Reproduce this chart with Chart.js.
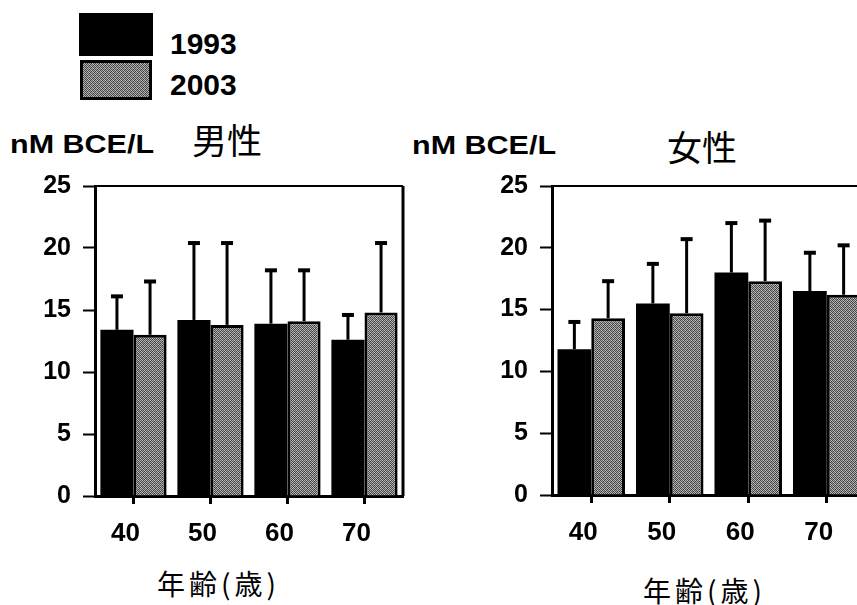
<!DOCTYPE html>
<html>
<head>
<meta charset="utf-8">
<script src="https://cdn.jsdelivr.net/npm/chart.js@4.4.1/dist/chart.umd.min.js"></script>
<style>
  html, body { margin: 0; padding: 0; background: #fff; }
  body { width: 857px; height: 605px; position: relative; overflow: hidden; }
  .txt { position: absolute; white-space: nowrap; color: #000; line-height: 1; }
  .unit { font-family: "Liberation Sans", Arial, sans-serif; font-weight: bold; font-size: 25px; transform: scaleX(1.22); transform-origin: left center; }
  .sex { font-family: "Noto Sans CJK JP", sans-serif; font-size: 35px; }
  .age { font-family: "Noto Sans CJK JP", sans-serif; font-size: 28px; letter-spacing: 4px; }
  .leg { font-family: "Liberation Sans", Arial, sans-serif; font-weight: bold; font-size: 30px; }
  .box { position: absolute; box-sizing: border-box; }
  canvas { position: absolute; }
</style>
</head>
<body>
<div class="box" id="box93" style="left:79px;top:13px;width:74px;height:43px;background:#000;"></div>
<div class="box" id="box03" style="left:80px;top:60px;width:72px;height:40px;border:3px solid #000;"></div>
<div class="txt leg" style="left:170px;top:29px;">1993</div>
<div class="txt leg" style="left:170px;top:70px;">2003</div>

<div class="txt unit" style="left:10px;top:132px;">nM BCE/L</div>
<div class="txt sex" style="left:192px;top:121px;">男性</div>
<div class="txt unit" style="left:412px;top:133px;">nM BCE/L</div>
<div class="txt sex" style="left:667px;top:128px;">女性</div>

<div class="txt age" style="left:157px;top:569px;">年齢(歳)</div>
<div class="txt age" style="left:643px;top:576px;">年齢(歳)</div>

<canvas id="male" width="410" height="446" style="left:0px;top:159px;"></canvas>
<canvas id="female" width="420" height="446" style="left:457px;top:159px;"></canvas>

<script>
// data (nM BCE/L, mean and upper SD)
const ageLabels = ['40', '50', '60', '70'];
const male1993 = [13.4, 14.2, 13.9, 12.6];
const male1993Sd = [2.7, 6.2, 4.3, 2.0];
const male2003 = [13.0, 13.8, 14.1, 14.8];
const male2003Sd = [4.3, 6.6, 4.1, 5.6];
const female1993 = [11.8, 15.5, 18.0, 16.5];
const female1993Sd = [2.2, 3.2, 4.0, 3.1];
const female2003 = [14.3, 14.7, 17.3, 16.2];
const female2003Sd = [3.0, 6.0, 4.9, 4.0];
const yMax = 25;
const yStep = 5;

// stippled grey fill like the scanned halftone
function makeStipple() {
	const c = document.createElement('canvas');
	c.width = 4; c.height = 4;
	const g = c.getContext('2d');
	const shades = [
		['#3c3c3c', '#bcbcbc', '#4a4a4a', '#a0a0a0'],
		['#acacac', '#5a5a5a', '#c4c4c4', '#404040'],
		['#4e4e4e', '#a8a8a8', '#363636', '#b6b6b6'],
		['#c0c0c0', '#464646', '#a4a4a4', '#525252']
	];
	for (let y = 0; y < 4; y++) {
		for (let x = 0; x < 4; x++) {
			g.fillStyle = shades[y][x];
			g.fillRect(x, y, 1, 1);
		}
	}
	return c;
}
const stippleCanvas = makeStipple();
document.getElementById('box03').style.background = 'url(' + stippleCanvas.toDataURL() + ')';

// upward error bars with caps
const errorBars = {
	id: 'errorBars',
	afterDatasetsDraw(chart) {
		const ctx = chart.ctx;
		const yScale = chart.scales.y;
		ctx.save();
		ctx.strokeStyle = '#000';
		chart.data.datasets.forEach((ds, di) => {
			const meta = chart.getDatasetMeta(di);
			meta.data.forEach((bar, i) => {
				const yTop = yScale.getPixelForValue(ds.data[i] + ds.sd[i]);
				ctx.lineWidth = 3;
				ctx.beginPath();
				ctx.moveTo(bar.x, bar.y);
				ctx.lineTo(bar.x, yTop);
				ctx.stroke();
				ctx.lineWidth = 4;
				ctx.beginPath();
				ctx.moveTo(bar.x - 6, yTop);
				ctx.lineTo(bar.x + 6, yTop);
				ctx.stroke();
			});
		});
		ctx.restore();
	}
};

// top and right edges of the plot frame
const frame = {
	id: 'frame',
	afterDraw(chart) {
		const a = chart.chartArea;
		const ctx = chart.ctx;
		ctx.save();
		ctx.strokeStyle = '#000';
		ctx.lineWidth = 2;
		ctx.beginPath();
		ctx.moveTo(a.left, a.top);
		ctx.lineTo(a.right, a.top);
		ctx.stroke();
		ctx.lineWidth = 3;
		ctx.beginPath();
		ctx.moveTo(a.right, a.top);
		ctx.lineTo(a.right, a.bottom);
		ctx.stroke();
		ctx.restore();
	}
};

function makeChart(id, v93, sd93, v03, sd03, padRight, xHeight) {
	const ctx = document.getElementById(id).getContext('2d');
	const stipple = ctx.createPattern(stippleCanvas, 'repeat');
	return new Chart(ctx, {
		type: 'bar',
		data: {
			labels: ageLabels,
			datasets: [
				{ label: '1993', data: v93, sd: sd93, backgroundColor: '#000', borderWidth: 0 },
				{ label: '2003', data: v03, sd: sd03, backgroundColor: stipple, borderColor: '#000', borderWidth: 3 }
			]
		},
		options: {
			responsive: false,
			animation: false,
			devicePixelRatio: 1,
			categoryPercentage: 0.86,
			barPercentage: 1.0,
			layout: { padding: { top: 0, right: padRight, bottom: 0, left: 0 } },
			plugins: { legend: { display: false }, tooltip: { enabled: false } },
			scales: {
				x: {
					afterFit: (s) => { s.height = xHeight; },
					border: { display: true, color: '#000', width: 3 },
					grid: { display: true, offset: false, drawOnChartArea: false, drawTicks: true, tickLength: 8, tickWidth: 3, tickColor: '#000' },
					ticks: { color: '#000', padding: 14, labelOffset: -8, font: { family: 'Liberation Sans', weight: 'bold', size: 26 } }
				},
				y: {
					min: 0,
					max: yMax,
					afterFit: (s) => { s.width = 95; },
					border: { display: true, color: '#000', width: 3 },
					grid: { display: true, drawOnChartArea: false, drawTicks: true, tickLength: 12, tickWidth: 2, tickColor: '#000' },
					ticks: { stepSize: yStep, color: '#000', padding: 12, font: { family: 'Liberation Sans', weight: 'bold', size: 25 } }
				}
			}
		},
		plugins: [errorBars, frame]
	});
}

makeChart('male', male1993, male1993Sd, male2003, male2003Sd, 7, 109);
makeChart('female', female1993, female1993Sd, female2003, female2003Sd, 11, 110);
</script>
</body>
</html>
